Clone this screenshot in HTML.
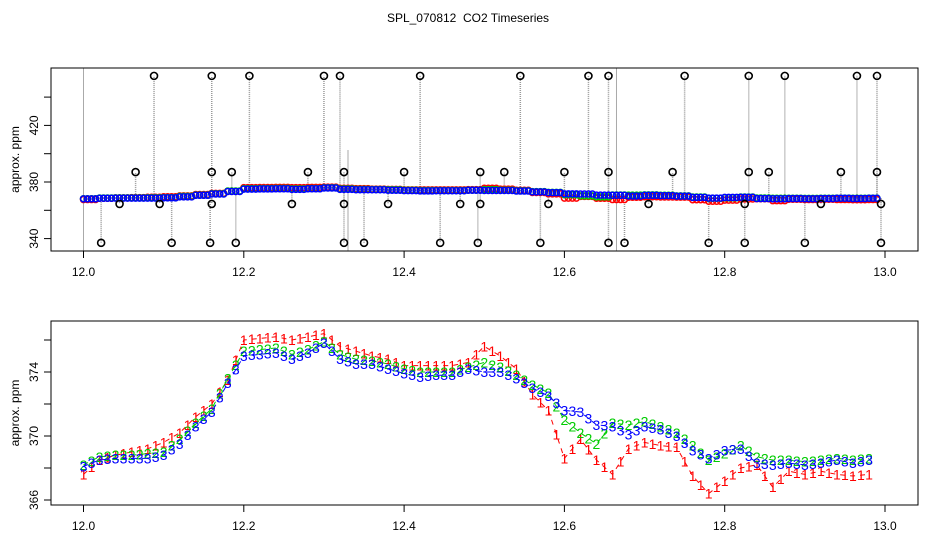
<!DOCTYPE html>
<html><head><meta charset="utf-8"><style>
html,body{margin:0;padding:0;background:#fff;}
svg{display:block;font-family:"Liberation Sans",sans-serif;}
</style></head><body>
<svg id="c" width="936" height="540" viewBox="0 0 936 540">
<text x="468" y="22" text-anchor="middle" font-size="12" style="white-space:pre">SPL_070812  CO2 Timeseries</text>
<g id="top"></g>
<g id="bot"></g>
</svg>
<script>
const times = [12.00,12.02,12.04,12.06,12.08,12.10,12.12,12.14,12.16,12.18,12.20,12.22,12.24,12.26,12.28,12.30,12.32,12.34,12.36,12.38,12.40,12.42,12.44,12.46,12.48,12.50,12.52,12.54,12.56,12.58,12.60,12.62,12.64,12.66,12.68,12.70,12.72,12.74,12.76,12.78,12.80,12.82,12.84,12.86,12.88,12.90,12.92,12.94,12.96,12.98];
const series1 = [367.6,368.5,368.8,369.0,369.2,369.6,370.2,371.2,372.0,373.5,376.0,376.1,376.2,376.0,376.2,376.4,375.6,375.3,375.0,374.8,374.4,374.4,374.4,374.4,374.6,375.6,375.0,374.2,372.6,371.6,368.6,369.8,368.5,367.6,369.2,369.6,369.4,369.3,367.5,366.4,367.2,368.0,368.2,366.8,367.8,367.6,367.8,367.6,367.5,367.6];
const series2 = [368.2,368.7,368.8,368.8,368.9,369.0,369.8,370.8,371.7,373.6,375.3,375.4,375.5,375.1,375.4,375.9,375.1,374.8,374.7,374.5,374.2,374.0,374.0,374.0,374.3,374.6,374.3,373.8,373.2,372.7,371.0,370.2,369.5,370.8,370.7,370.9,370.6,370.2,369.4,368.5,368.9,369.4,368.7,368.5,368.5,368.4,368.5,368.6,368.5,368.6];
const series3 = [368.1,368.5,368.6,368.6,368.6,368.8,369.5,370.6,371.5,373.3,375.0,375.1,375.2,374.8,375.2,375.8,374.8,374.5,374.5,374.2,373.9,373.7,373.8,373.8,374.2,374.0,374.0,373.6,373.0,372.5,371.6,371.5,370.7,370.6,370.1,370.6,370.4,370.0,369.1,368.6,369.1,369.2,368.3,368.2,368.3,368.2,368.3,368.5,368.3,368.5];
const outlierTimes = [12.088,12.16,12.207,12.30,12.32,12.42,12.545,12.63,12.655,12.75,12.83,12.875,12.965,12.99,12.065,12.16,12.185,12.28,12.325,12.40,12.495,12.525,12.60,12.655,12.735,12.83,12.855,12.945,12.99,12.045,12.095,12.16,12.26,12.325,12.38,12.47,12.495,12.58,12.705,12.825,12.92,12.995,12.022,12.11,12.158,12.19,12.325,12.35,12.445,12.492,12.57,12.655,12.675,12.78,12.825,12.90,12.995];
const outlierValues = [455,455,455,455,455,455,455,455,455,455,455,455,455,455,387,387,387,387,387,387,387,387,387,387,387,387,387,387,387,364.5,364.5,364.5,364.5,364.5,364.5,364.5,364.5,364.5,364.5,364.5,364.5,364.5,337,337,337,337,337,337,337,337,337,337,337,337,337,337,337];
const gapTimes = [12.0,12.33,12.665];
const xTicks = [12.0,12.2,12.4,12.6,12.8,13.0];
const topYTicks = [340,360,380,400,420,440];
const topYLabels = [340,380,420];
const botYTicks = [366,368,370,372,374,376];
const botYLabels = [366,370,374];

const NS="http://www.w3.org/2000/svg";
function mk(parent,tag,attrs){const e=document.createElementNS(NS,tag);for(const k in attrs)e.setAttribute(k,attrs[k]);parent.appendChild(e);return e;}
const xs = t => 83.5 + (t-12)*801.5;
const yTop = v => 182 + (380-v)*1.415;
const yBot = v => 436 + (370-v)*16;
const base = (t)=>{let i=Math.round((t-12)/0.02);i=Math.max(0,Math.min(times.length-1,i));return series3[i];};

function axes(g,top,bottom,yf,yt,yl,pfx){
  let b=mk(g,'rect',{x:51,y:top,width:867,height:bottom-top,fill:'none',stroke:'#000','stroke-width':1});
  
  xTicks.forEach(t=>{const x=xs(t);
    let l=mk(g,'line',{x1:x,x2:x,y1:bottom,y2:bottom+7,stroke:'#000'});
    
    let tx=mk(g,'text',{x:x,y:bottom+25,'text-anchor':'middle','font-size':12});tx.textContent=t.toFixed(1);
    });
  yt.forEach(v=>{const y=yf(v);if(y<top-1||y>bottom+1)return;
    let l=mk(g,'line',{x1:44,x2:51,y1:y,y2:y,stroke:'#000'});
    });
  yl.forEach(v=>{const y=yf(v);
    let tx=mk(g,'text',{x:38,y:y,'text-anchor':'middle','font-size':12,transform:`rotate(-90 38 ${y})`});tx.textContent=v;
    });
  const cy=(top+bottom)/2;
  let yt2=mk(g,'text',{x:19,y:cy,'text-anchor':'middle','font-size':12,transform:`rotate(-90 19 ${cy})`});yt2.textContent='approx. ppm';
  
}

// TOP PANEL
const T=document.getElementById('top');
gapTimes.forEach((t,i)=>{const x=xs(t);
  let l=mk(T,'line',{x1:x,x2:x,y1:i==1?150:68,y2:251,stroke:'#aaa','stroke-width':1});
  });
outlierTimes.forEach((t,i)=>{const x=xs(t);
  let l=mk(T,'line',{x1:x,x2:x,y1:yTop(base(t)),y2:yTop(outlierValues[i]),stroke:'#999','stroke-dasharray':'1 1','stroke-width':1.5});
  });
[[series1,'#f00'],[series2,'#0c0'],[series3,'#00f']].forEach(([s,c],k)=>{
  s.forEach((v,i)=>{for(let d=0;d<4;d++){
    const x=xs(times[i])+d*4;if(x>xs(12.99))continue;
    let cc=mk(T,'circle',{cx:x,cy:yTop(v),r:3,fill:'none',stroke:c,'stroke-width':1.5});
    }});});
outlierTimes.forEach((t,i)=>{
  let c=mk(T,'circle',{cx:xs(t),cy:yTop(outlierValues[i]),r:3.5,fill:'none',stroke:'#000','stroke-width':1.6});
  });
axes(T,68,251,yTop,topYTicks,topYLabels,'top');

// BOTTOM PANEL
const B=document.getElementById('bot');
const bs=[[series1,'#f00','1'],[series2,'#0c0','2'],[series3,'#00f','3']];
bs.forEach(([s,c,lab],k)=>{
  let p=mk(B,'polyline',{points:s.map((v,i)=>xs(times[i])+','+yBot(v)).join(' '),fill:'none',stroke:c,'stroke-width':1,'stroke-dasharray':'5 5'});
  
  s.forEach((v,i)=>{
    let t=mk(B,'text',{x:xs(times[i]),y:yBot(v)+5,'text-anchor':'middle','font-size':14,fill:c});t.textContent=lab;
    
    if(i<s.length-1){let t2=mk(B,'text',{x:xs(times[i])+8,y:yBot((v+s[i+1])/2)+5,'text-anchor':'middle','font-size':14,fill:c});t2.textContent=lab;
    }
  });
});
axes(B,321,505,yBot,botYTicks,botYLabels,'bottom');
</script>
</body></html>
